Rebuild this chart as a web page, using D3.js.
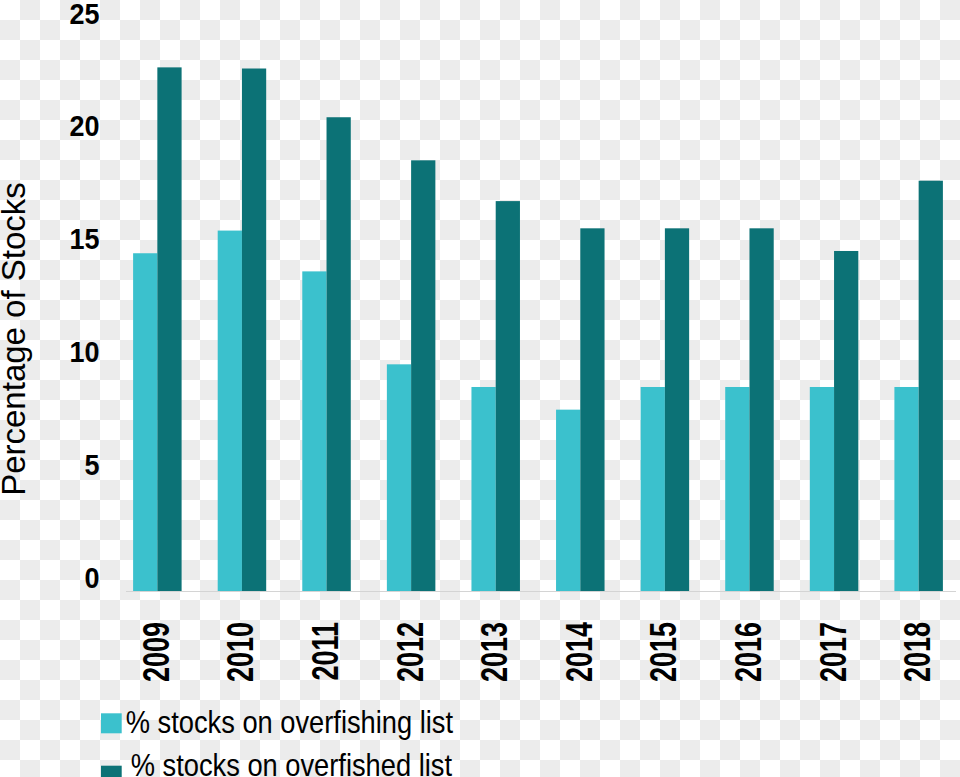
<!DOCTYPE html>
<html>
<head>
<meta charset="utf-8">
<script src="https://cdn.jsdelivr.net/npm/d3@7"></script>
<style>
  html, body { margin: 0; padding: 0; background: #ffffff; }
  svg { display: block; }
  text { font-family: "Liberation Sans", Arial, sans-serif; fill: #000; }
</style>
</head>
<body>
<svg id="chart" width="960" height="777"></svg>
<script>
// ---- data ----
const years = ["2009", "2010", "2011", "2012", "2013", "2014", "2015", "2016", "2017", "2018"];
const overfishing = [14.9, 15.9, 14.1, 10, 9, 8, 9, 9, 9, 9];
const overfished = [23.1, 23.05, 20.9, 19, 17.2, 16, 16, 16, 15, 18.1];
const seriesNames = ["% stocks on overfishing list", "% stocks on overfished list"];
const seriesKeys = ["overfishing", "overfished"];
const seriesColors = ["#3bc1cd", "#0c7276"];
const yTicks = [0, 5, 10, 15, 20, 25];
const yTitle = "Percentage of Stocks";

const rows = years.map((y, i) => ({ year: y, overfishing: overfishing[i], overfished: overfished[i] }));

const svg = d3.select("#chart");
const W = 960, H = 777;

// checkerboard (transparent background look)
const defs = svg.append("defs");
const pat = defs.append("pattern").attr("id", "checker").attr("width", 40).attr("height", 40)
  .attr("patternUnits", "userSpaceOnUse");
pat.append("rect").attr("width", 40).attr("height", 40).attr("fill", "#ffffff");
pat.append("rect").attr("x", 20).attr("y", 0).attr("width", 20).attr("height", 20).attr("fill", "#ececec");
pat.append("rect").attr("x", 0).attr("y", 20).attr("width", 20).attr("height", 20).attr("fill", "#ececec");
svg.append("rect").attr("width", W).attr("height", H).attr("fill", "url(#checker)");

// scales
const x0 = d3.scaleBand().domain(years).range([126, 950]).paddingInner(0.4267).paddingOuter(0.084);
const x1 = d3.scaleBand().domain(seriesKeys).range([0, x0.bandwidth()]).padding(0);
const y = d3.scaleLinear().domain([0, 25]).range([591, 24.3]);
const yLab = d3.scaleLinear().domain([0, 25]).range([577, 13]);
const color = d3.scaleOrdinal().domain(seriesKeys).range(seriesColors);

// axis baseline
svg.append("line")
  .attr("x1", x0.range()[0]).attr("x2", x0.range()[1] + 6)
  .attr("y1", y(0) + 0.5).attr("y2", y(0) + 0.5)
  .attr("stroke", "#d4d4d4").attr("stroke-width", 1);

// bars
const groups = svg.append("g").selectAll("g").data(rows).join("g")
  .attr("transform", d => `translate(${x0(d.year)},0)`);
groups.selectAll("rect").data(d => seriesKeys.map(k => ({ key: k, value: d[k] }))).join("rect")
  .attr("x", d => x1(d.key))
  .attr("width", x1.bandwidth())
  .attr("y", d => y(d.value))
  .attr("height", d => y(0) - y(d.value))
  .attr("fill", d => color(d.key));

// y tick labels
svg.append("g").selectAll("text").data(yTicks).join("text")
  .attr("transform", d => `translate(99.5,${yLab(d)}) scale(0.9,1)`)
  .attr("dy", "0.35em")
  .attr("text-anchor", "end")
  .style("font-size", "30px")
  .style("font-weight", "bold")
  .text(d => d);

// x tick labels (years, rotated)
svg.append("g").selectAll("text").data(years).join("text")
  .attr("transform", d => `translate(${x0(d) + x0.bandwidth() / 2 + 11.5},622) rotate(-90) scale(0.75,1)`)
  .attr("text-anchor", "end")
  .style("font-size", "36px")
  .style("font-weight", "bold")
  .text(d => d);

// y title
svg.append("text")
  .attr("transform", "translate(25,339) rotate(-90)")
  .attr("text-anchor", "middle")
  .style("font-size", "33px")
  .text(yTitle);

// legend
const legendPos = [{ sx: 101, sy: 713.3, tx: 125.7, ty: 733.3 }, { sx: 101, sy: 765.7, tx: 130.7, ty: 776 }];
const leg = svg.append("g").selectAll("g").data(seriesKeys).join("g");
leg.append("rect")
  .attr("x", (d, i) => legendPos[i].sx).attr("y", (d, i) => legendPos[i].sy)
  .attr("width", 20.7).attr("height", 20)
  .attr("fill", d => color(d));
leg.append("text")
  .attr("transform", (d, i) => `translate(${legendPos[i].tx},${legendPos[i].ty}) scale(0.88,1)`)
  .style("font-size", "31px")
  .text((d, i) => seriesNames[i]);
</script>
</body>
</html>
